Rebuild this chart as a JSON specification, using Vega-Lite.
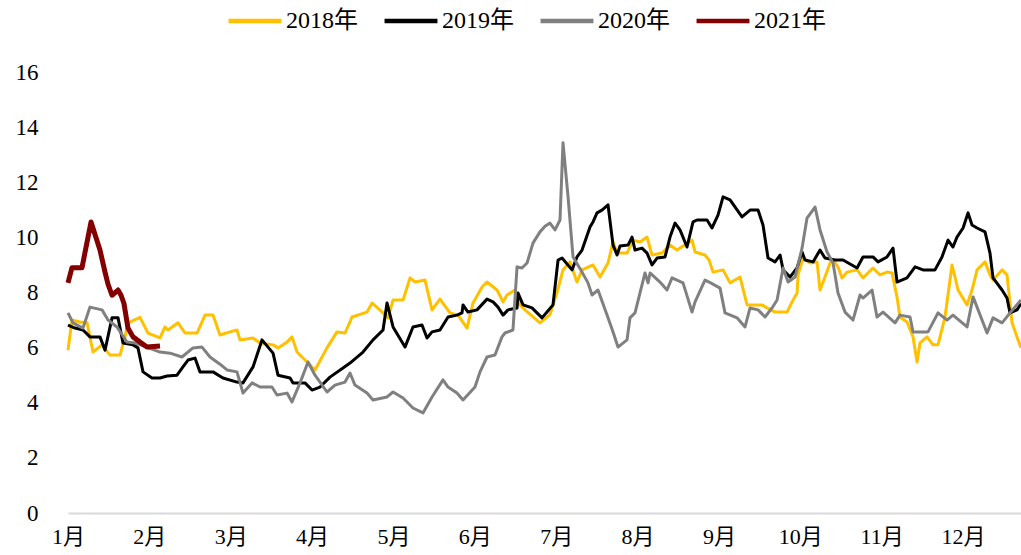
{
  "$schema": "https://vega.github.io/schema/vega-lite/v6.json",
  "width": 953,
  "height": 441,
  "autosize": {"type": "none"},
  "padding": {"left": 68, "top": 72, "right": 0, "bottom": 42},
  "background": "white",
  "config": {"view": {"stroke": null}, "font": "Liberation Serif"},
  "data": {"values": [
{"s":"2018年","m":0,"v":5.91},{"s":"2018年","m":0.049,"v":7.0},{"s":"2018年","m":0.147,"v":6.93},{"s":"2018年","m":0.234,"v":6.9},{"s":"2018年","m":0.307,"v":5.84},{"s":"2018年","m":0.418,"v":6.1},{"s":"2018年","m":0.516,"v":5.73},{"s":"2018年","m":0.639,"v":5.73},{"s":"2018年","m":0.701,"v":6.39},{"s":"2018年","m":0.737,"v":6.9},{"s":"2018年","m":0.885,"v":7.1},{"s":"2018年","m":0.983,"v":6.53},{"s":"2018年","m":1.131,"v":6.35},{"s":"2018年","m":1.192,"v":6.75},{"s":"2018年","m":1.229,"v":6.64},{"s":"2018年","m":1.352,"v":6.9},{"s":"2018年","m":1.438,"v":6.53},{"s":"2018年","m":1.586,"v":6.53},{"s":"2018年","m":1.684,"v":7.18},{"s":"2018年","m":1.782,"v":7.18},{"s":"2018年","m":1.868,"v":6.46},{"s":"2018年","m":1.991,"v":6.57},{"s":"2018年","m":2.077,"v":6.64},{"s":"2018年","m":2.114,"v":6.28},{"s":"2018年","m":2.274,"v":6.35},{"s":"2018年","m":2.36,"v":6.17},{"s":"2018年","m":2.52,"v":6.1},{"s":"2018年","m":2.581,"v":5.99},{"s":"2018年","m":2.692,"v":6.2},{"s":"2018年","m":2.753,"v":6.39},{"s":"2018年","m":2.815,"v":5.84},{"s":"2018年","m":2.938,"v":5.48},{"s":"2018年","m":3.036,"v":5.19},{"s":"2018年","m":3.183,"v":5.99},{"s":"2018年","m":3.306,"v":6.57},{"s":"2018年","m":3.405,"v":6.53},{"s":"2018年","m":3.491,"v":7.11},{"s":"2018年","m":3.675,"v":7.29},{"s":"2018年","m":3.737,"v":7.62},{"s":"2018年","m":3.872,"v":7.26},{"s":"2018年","m":3.933,"v":7.08},{"s":"2018年","m":3.995,"v":7.73},{"s":"2018年","m":4.118,"v":7.73},{"s":"2018年","m":4.204,"v":8.53},{"s":"2018年","m":4.265,"v":8.38},{"s":"2018年","m":4.388,"v":8.45},{"s":"2018年","m":4.474,"v":7.37},{"s":"2018年","m":4.572,"v":7.76},{"s":"2018年","m":4.695,"v":7.26},{"s":"2018年","m":4.794,"v":7.18},{"s":"2018年","m":4.904,"v":6.71},{"s":"2018年","m":4.978,"v":7.62},{"s":"2018年","m":5.089,"v":8.2},{"s":"2018年","m":5.15,"v":8.38},{"s":"2018年","m":5.273,"v":8.09},{"s":"2018年","m":5.347,"v":7.66},{"s":"2018年","m":5.396,"v":7.91},{"s":"2018年","m":5.494,"v":8.09},{"s":"2018年","m":5.556,"v":7.55},{"s":"2018年","m":5.617,"v":7.37},{"s":"2018年","m":5.801,"v":6.9},{"s":"2018年","m":5.924,"v":7.2},{"s":"2018年","m":6.01,"v":8.0},{"s":"2018年","m":6.084,"v":8.82},{"s":"2018年","m":6.17,"v":9.11},{"s":"2018年","m":6.256,"v":8.38},{"s":"2018年","m":6.318,"v":8.82},{"s":"2018年","m":6.453,"v":9.0},{"s":"2018年","m":6.539,"v":8.56},{"s":"2018年","m":6.637,"v":9.07},{"s":"2018年","m":6.699,"v":9.83},{"s":"2018年","m":6.748,"v":9.43},{"s":"2018年","m":6.871,"v":9.43},{"s":"2018年","m":6.944,"v":9.9},{"s":"2018年","m":7.03,"v":9.83},{"s":"2018年","m":7.117,"v":10.01},{"s":"2018年","m":7.178,"v":9.36},{"s":"2018年","m":7.301,"v":9.43},{"s":"2018年","m":7.399,"v":9.72},{"s":"2018年","m":7.485,"v":9.54},{"s":"2018年","m":7.67,"v":9.9},{"s":"2018年","m":7.707,"v":9.47},{"s":"2018年","m":7.829,"v":9.36},{"s":"2018年","m":7.879,"v":9.18},{"s":"2018年","m":7.928,"v":8.74},{"s":"2018年","m":8.051,"v":8.82},{"s":"2018年","m":8.137,"v":8.35},{"s":"2018年","m":8.26,"v":8.56},{"s":"2018年","m":8.346,"v":7.55},{"s":"2018年","m":8.53,"v":7.55},{"s":"2018年","m":8.592,"v":7.44},{"s":"2018年","m":8.69,"v":7.29},{"s":"2018年","m":8.838,"v":7.29},{"s":"2018年","m":8.899,"v":7.66},{"s":"2018年","m":8.961,"v":7.98},{"s":"2018年","m":8.973,"v":8.64},{"s":"2018年","m":9.034,"v":9.25},{"s":"2018年","m":9.12,"v":9.07},{"s":"2018年","m":9.206,"v":9.11},{"s":"2018年","m":9.243,"v":8.09},{"s":"2018年","m":9.304,"v":8.56},{"s":"2018年","m":9.366,"v":9.07},{"s":"2018年","m":9.403,"v":9.18},{"s":"2018年","m":9.464,"v":8.93},{"s":"2018年","m":9.513,"v":8.53},{"s":"2018年","m":9.575,"v":8.74},{"s":"2018年","m":9.698,"v":8.82},{"s":"2018年","m":9.771,"v":8.53},{"s":"2018年","m":9.894,"v":8.89},{"s":"2018年","m":9.98,"v":8.64},{"s":"2018年","m":10.066,"v":8.74},{"s":"2018年","m":10.128,"v":8.71},{"s":"2018年","m":10.189,"v":7.84},{"s":"2018年","m":10.226,"v":7.11},{"s":"2018年","m":10.312,"v":6.93},{"s":"2018年","m":10.386,"v":6.39},{"s":"2018年","m":10.435,"v":5.48},{"s":"2018年","m":10.472,"v":6.17},{"s":"2018年","m":10.558,"v":6.39},{"s":"2018年","m":10.632,"v":6.1},{"s":"2018年","m":10.693,"v":6.1},{"s":"2018年","m":10.779,"v":7.11},{"s":"2018年","m":10.865,"v":9.0},{"s":"2018年","m":10.902,"v":8.56},{"s":"2018年","m":10.939,"v":8.09},{"s":"2018年","m":11.05,"v":7.55},{"s":"2018年","m":11.111,"v":8.09},{"s":"2018年","m":11.173,"v":8.82},{"s":"2018年","m":11.271,"v":9.11},{"s":"2018年","m":11.332,"v":8.64},{"s":"2018年","m":11.369,"v":8.45},{"s":"2018年","m":11.48,"v":8.82},{"s":"2018年","m":11.541,"v":8.64},{"s":"2018年","m":11.603,"v":6.9},{"s":"2018年","m":11.677,"v":6.28},{"s":"2018年","m":11.713,"v":6.0},
{"s":"2019年","m":0,"v":6.82},{"s":"2019年","m":0.086,"v":6.71},{"s":"2019年","m":0.184,"v":6.64},{"s":"2019年","m":0.27,"v":6.39},{"s":"2019年","m":0.393,"v":6.39},{"s":"2019年","m":0.455,"v":5.91},{"s":"2019年","m":0.541,"v":7.08},{"s":"2019年","m":0.615,"v":7.08},{"s":"2019年","m":0.676,"v":6.17},{"s":"2019年","m":0.799,"v":6.1},{"s":"2019年","m":0.86,"v":5.99},{"s":"2019年","m":0.922,"v":5.12},{"s":"2019年","m":1.032,"v":4.9},{"s":"2019年","m":1.131,"v":4.9},{"s":"2019年","m":1.217,"v":4.97},{"s":"2019年","m":1.34,"v":5.0},{"s":"2019年","m":1.413,"v":5.3},{"s":"2019年","m":1.475,"v":5.55},{"s":"2019年","m":1.561,"v":5.62},{"s":"2019年","m":1.622,"v":5.12},{"s":"2019年","m":1.782,"v":5.12},{"s":"2019年","m":1.905,"v":4.9},{"s":"2019年","m":2.077,"v":4.75},{"s":"2019年","m":2.151,"v":4.72},{"s":"2019年","m":2.274,"v":5.3},{"s":"2019年","m":2.384,"v":6.28},{"s":"2019年","m":2.52,"v":5.8},{"s":"2019年","m":2.581,"v":5.0},{"s":"2019年","m":2.729,"v":4.9},{"s":"2019年","m":2.766,"v":4.72},{"s":"2019年","m":2.913,"v":4.72},{"s":"2019年","m":2.999,"v":4.46},{"s":"2019年","m":3.097,"v":4.57},{"s":"2019年","m":3.22,"v":4.93},{"s":"2019年","m":3.38,"v":5.26},{"s":"2019年","m":3.466,"v":5.44},{"s":"2019年","m":3.626,"v":5.84},{"s":"2019年","m":3.749,"v":6.28},{"s":"2019年","m":3.872,"v":6.64},{"s":"2019年","m":3.921,"v":7.62},{"s":"2019年","m":3.995,"v":6.75},{"s":"2019年","m":4.142,"v":6.02},{"s":"2019年","m":4.24,"v":6.75},{"s":"2019年","m":4.351,"v":6.82},{"s":"2019年","m":4.413,"v":6.35},{"s":"2019年","m":4.474,"v":6.57},{"s":"2019年","m":4.572,"v":6.64},{"s":"2019年","m":4.671,"v":7.11},{"s":"2019年","m":4.781,"v":7.18},{"s":"2019年","m":4.843,"v":7.26},{"s":"2019年","m":4.855,"v":7.55},{"s":"2019年","m":4.916,"v":7.29},{"s":"2019年","m":5.027,"v":7.37},{"s":"2019年","m":5.15,"v":7.76},{"s":"2019年","m":5.224,"v":7.66},{"s":"2019年","m":5.285,"v":7.47},{"s":"2019年","m":5.347,"v":7.18},{"s":"2019年","m":5.408,"v":7.37},{"s":"2019年","m":5.519,"v":7.44},{"s":"2019年","m":5.531,"v":7.98},{"s":"2019年","m":5.593,"v":7.55},{"s":"2019年","m":5.703,"v":7.44},{"s":"2019年","m":5.826,"v":7.08},{"s":"2019年","m":5.887,"v":7.29},{"s":"2019年","m":5.961,"v":7.55},{"s":"2019年","m":6.023,"v":9.18},{"s":"2019年","m":6.072,"v":9.25},{"s":"2019年","m":6.195,"v":8.82},{"s":"2019年","m":6.256,"v":9.29},{"s":"2019年","m":6.318,"v":9.54},{"s":"2019年","m":6.416,"v":10.38},{"s":"2019年","m":6.453,"v":10.56},{"s":"2019年","m":6.502,"v":10.89},{"s":"2019年","m":6.563,"v":10.99},{"s":"2019年","m":6.637,"v":11.18},{"s":"2019年","m":6.699,"v":9.72},{"s":"2019年","m":6.748,"v":9.36},{"s":"2019年","m":6.785,"v":9.69},{"s":"2019年","m":6.883,"v":9.72},{"s":"2019年","m":6.932,"v":10.01},{"s":"2019年","m":6.969,"v":9.54},{"s":"2019年","m":7.055,"v":9.61},{"s":"2019年","m":7.117,"v":9.43},{"s":"2019年","m":7.178,"v":9.0},{"s":"2019年","m":7.24,"v":9.25},{"s":"2019年","m":7.338,"v":9.29},{"s":"2019年","m":7.399,"v":10.01},{"s":"2019年","m":7.461,"v":10.52},{"s":"2019年","m":7.522,"v":10.27},{"s":"2019年","m":7.608,"v":9.65},{"s":"2019年","m":7.682,"v":10.56},{"s":"2019年","m":7.731,"v":10.63},{"s":"2019年","m":7.854,"v":10.63},{"s":"2019年","m":7.915,"v":10.34},{"s":"2019年","m":7.989,"v":10.81},{"s":"2019年","m":8.051,"v":11.47},{"s":"2019年","m":8.137,"v":11.36},{"s":"2019年","m":8.284,"v":10.74},{"s":"2019年","m":8.383,"v":10.99},{"s":"2019年","m":8.481,"v":10.99},{"s":"2019年","m":8.542,"v":10.45},{"s":"2019年","m":8.604,"v":9.25},{"s":"2019年","m":8.69,"v":9.11},{"s":"2019年","m":8.752,"v":9.36},{"s":"2019年","m":8.789,"v":8.82},{"s":"2019年","m":8.874,"v":8.56},{"s":"2019年","m":8.96,"v":8.89},{"s":"2019年","m":9.022,"v":9.47},{"s":"2019年","m":9.058,"v":9.18},{"s":"2019年","m":9.157,"v":9.11},{"s":"2019年","m":9.243,"v":9.54},{"s":"2019年","m":9.304,"v":9.25},{"s":"2019年","m":9.427,"v":9.18},{"s":"2019年","m":9.526,"v":9.18},{"s":"2019年","m":9.698,"v":8.89},{"s":"2019年","m":9.771,"v":9.29},{"s":"2019年","m":9.894,"v":9.29},{"s":"2019年","m":9.956,"v":9.11},{"s":"2019年","m":10.066,"v":9.29},{"s":"2019年","m":10.14,"v":9.61},{"s":"2019年","m":10.189,"v":8.38},{"s":"2019年","m":10.312,"v":8.53},{"s":"2019年","m":10.411,"v":8.93},{"s":"2019年","m":10.509,"v":8.82},{"s":"2019年","m":10.656,"v":8.82},{"s":"2019年","m":10.742,"v":9.29},{"s":"2019年","m":10.816,"v":9.9},{"s":"2019年","m":10.877,"v":9.65},{"s":"2019年","m":10.926,"v":10.01},{"s":"2019年","m":11.001,"v":10.34},{"s":"2019年","m":11.062,"v":10.89},{"s":"2019年","m":11.111,"v":10.45},{"s":"2019年","m":11.173,"v":10.34},{"s":"2019年","m":11.271,"v":10.2},{"s":"2019年","m":11.332,"v":9.43},{"s":"2019年","m":11.369,"v":8.53},{"s":"2019年","m":11.48,"v":8.09},{"s":"2019年","m":11.541,"v":7.8},{"s":"2019年","m":11.578,"v":7.26},{"s":"2019年","m":11.664,"v":7.37},{"s":"2019年","m":11.713,"v":7.6},
{"s":"2020年","m":0,"v":7.26},{"s":"2020年","m":0.061,"v":6.9},{"s":"2020年","m":0.184,"v":6.71},{"s":"2020年","m":0.27,"v":7.47},{"s":"2020年","m":0.418,"v":7.37},{"s":"2020年","m":0.492,"v":7.0},{"s":"2020年","m":0.602,"v":6.75},{"s":"2020年","m":0.725,"v":6.2},{"s":"2020年","m":0.824,"v":6.17},{"s":"2020年","m":1.131,"v":5.84},{"s":"2020年","m":1.254,"v":5.8},{"s":"2020年","m":1.401,"v":5.66},{"s":"2020年","m":1.536,"v":5.99},{"s":"2020年","m":1.647,"v":6.02},{"s":"2020年","m":1.745,"v":5.66},{"s":"2020年","m":1.868,"v":5.4},{"s":"2020年","m":1.954,"v":5.19},{"s":"2020年","m":2.077,"v":5.12},{"s":"2020年","m":2.151,"v":4.35},{"s":"2020年","m":2.262,"v":4.72},{"s":"2020年","m":2.36,"v":4.57},{"s":"2020年","m":2.507,"v":4.57},{"s":"2020年","m":2.569,"v":4.28},{"s":"2020年","m":2.692,"v":4.35},{"s":"2020年","m":2.753,"v":4.03},{"s":"2020年","m":2.852,"v":4.72},{"s":"2020年","m":2.95,"v":5.48},{"s":"2020年","m":3.036,"v":5.0},{"s":"2020年","m":3.183,"v":4.39},{"s":"2020年","m":3.282,"v":4.64},{"s":"2020年","m":3.405,"v":4.75},{"s":"2020年","m":3.466,"v":5.08},{"s":"2020年","m":3.527,"v":4.64},{"s":"2020年","m":3.675,"v":4.35},{"s":"2020年","m":3.749,"v":4.1},{"s":"2020年","m":3.921,"v":4.21},{"s":"2020年","m":3.995,"v":4.39},{"s":"2020年","m":4.118,"v":4.17},{"s":"2020年","m":4.24,"v":3.81},{"s":"2020年","m":4.363,"v":3.63},{"s":"2020年","m":4.474,"v":4.21},{"s":"2020年","m":4.609,"v":4.83},{"s":"2020年","m":4.671,"v":4.57},{"s":"2020年","m":4.781,"v":4.35},{"s":"2020年","m":4.855,"v":4.1},{"s":"2020年","m":5.002,"v":4.57},{"s":"2020年","m":5.064,"v":5.12},{"s":"2020年","m":5.15,"v":5.66},{"s":"2020年","m":5.248,"v":5.73},{"s":"2020年","m":5.334,"v":6.39},{"s":"2020年","m":5.371,"v":6.53},{"s":"2020年","m":5.469,"v":6.64},{"s":"2020年","m":5.519,"v":8.93},{"s":"2020年","m":5.58,"v":8.89},{"s":"2020年","m":5.642,"v":9.07},{"s":"2020年","m":5.716,"v":9.8},{"s":"2020年","m":5.801,"v":10.2},{"s":"2020年","m":5.863,"v":10.4},{"s":"2020年","m":5.924,"v":10.52},{"s":"2020年","m":5.986,"v":10.27},{"s":"2020年","m":6.047,"v":10.63},{"s":"2020年","m":6.084,"v":13.43},{"s":"2020年","m":6.146,"v":11.47},{"s":"2020年","m":6.207,"v":9.29},{"s":"2020年","m":6.318,"v":8.74},{"s":"2020年","m":6.391,"v":8.35},{"s":"2020年","m":6.441,"v":7.91},{"s":"2020年","m":6.514,"v":8.09},{"s":"2020年","m":6.625,"v":7.18},{"s":"2020年","m":6.699,"v":6.57},{"s":"2020年","m":6.76,"v":6.02},{"s":"2020年","m":6.871,"v":6.28},{"s":"2020年","m":6.907,"v":7.08},{"s":"2020年","m":6.969,"v":7.26},{"s":"2020年","m":7.092,"v":8.71},{"s":"2020年","m":7.129,"v":8.35},{"s":"2020年","m":7.154,"v":8.71},{"s":"2020年","m":7.276,"v":8.38},{"s":"2020年","m":7.362,"v":8.09},{"s":"2020年","m":7.424,"v":8.53},{"s":"2020年","m":7.559,"v":8.35},{"s":"2020年","m":7.67,"v":7.29},{"s":"2020年","m":7.707,"v":7.66},{"s":"2020年","m":7.829,"v":8.45},{"s":"2020年","m":7.879,"v":8.38},{"s":"2020年","m":8.014,"v":8.16},{"s":"2020年","m":8.075,"v":7.26},{"s":"2020年","m":8.223,"v":7.08},{"s":"2020年","m":8.321,"v":6.75},{"s":"2020年","m":8.383,"v":7.44},{"s":"2020年","m":8.481,"v":7.37},{"s":"2020年","m":8.567,"v":7.11},{"s":"2020年","m":8.653,"v":7.44},{"s":"2020年","m":8.715,"v":7.73},{"s":"2020年","m":8.789,"v":8.89},{"s":"2020年","m":8.85,"v":8.38},{"s":"2020年","m":8.936,"v":8.56},{"s":"2020年","m":9.022,"v":9.61},{"s":"2020年","m":9.083,"v":10.7},{"s":"2020年","m":9.182,"v":11.1},{"s":"2020年","m":9.243,"v":10.27},{"s":"2020年","m":9.329,"v":9.47},{"s":"2020年","m":9.403,"v":9.07},{"s":"2020年","m":9.464,"v":7.98},{"s":"2020年","m":9.55,"v":7.29},{"s":"2020年","m":9.648,"v":7.0},{"s":"2020年","m":9.735,"v":7.91},{"s":"2020年","m":9.771,"v":7.8},{"s":"2020年","m":9.882,"v":8.09},{"s":"2020年","m":9.943,"v":7.11},{"s":"2020年","m":10.017,"v":7.29},{"s":"2020年","m":10.165,"v":6.9},{"s":"2020年","m":10.226,"v":7.18},{"s":"2020年","m":10.349,"v":7.11},{"s":"2020年","m":10.386,"v":6.57},{"s":"2020年","m":10.57,"v":6.57},{"s":"2020年","m":10.693,"v":7.26},{"s":"2020年","m":10.804,"v":7.0},{"s":"2020年","m":10.877,"v":7.18},{"s":"2020年","m":11.05,"v":6.75},{"s":"2020年","m":11.124,"v":7.84},{"s":"2020年","m":11.296,"v":6.53},{"s":"2020年","m":11.369,"v":7.08},{"s":"2020年","m":11.48,"v":6.9},{"s":"2020年","m":11.578,"v":7.26},{"s":"2020年","m":11.713,"v":7.73},
{"s":"2021年","m":0,"v":8.35},{"s":"2021年","m":0.049,"v":8.9},{"s":"2021年","m":0.172,"v":8.9},{"s":"2021年","m":0.283,"v":10.56},{"s":"2021年","m":0.393,"v":9.54},{"s":"2021年","m":0.455,"v":8.74},{"s":"2021年","m":0.492,"v":8.3},{"s":"2021年","m":0.541,"v":7.9},{"s":"2021年","m":0.615,"v":8.09},{"s":"2021年","m":0.652,"v":7.9},{"s":"2021年","m":0.688,"v":7.6},{"s":"2021年","m":0.737,"v":6.71},{"s":"2021年","m":0.799,"v":6.39},{"s":"2021年","m":0.885,"v":6.2},{"s":"2021年","m":0.971,"v":6.02},{"s":"2021年","m":1.131,"v":6.06}
  ]},
  "encoding": {
    "x": {"field": "m", "type": "quantitative",
      "scale": {"domain": [0, 11.713], "nice": false, "zero": false},
      "axis": {"title": null, "values": [0,1,2,3,4,5,6,7,8,9,10,11], "labelExpr": "(datum.value + 1) + '月'", "grid": false, "ticks": false, "domainColor": "#d9d9d9", "domainWidth": 2, "labelFont": "Liberation Serif, Noto Sans CJK SC", "labelFontSize": 22, "labelColor": "#000000", "labelPadding": 13, "labelFlush": false}},
    "y": {"field": "v", "type": "quantitative",
      "scale": {"domain": [0, 16], "nice": false},
      "axis": {"title": null, "values": [0,2,4,6,8,10,12,14,16], "grid": false, "ticks": false, "domain": false, "labelFont": "Liberation Serif", "labelFontSize": 23, "labelColor": "#000000", "labelPadding": 30}},
    "color": {"field": "s", "type": "nominal",
      "scale": {"domain": ["2018年","2019年","2020年","2021年"], "range": ["#FFC000","#000000","#808080","#840000"]},
      "legend": {"title": null, "orient": "none", "direction": "horizontal", "legendX": 158, "legendY": -80, "symbolType": "stroke", "symbolSize": 2800, "symbolStrokeWidth": 4.5, "labelFont": "Liberation Serif, Noto Sans CJK SC", "labelFontSize": 24, "labelColor": "#000000", "labelOffset": 2, "columnPadding": 17}}
  },
  "layer": [
    {"transform": [{"filter": "datum.s !== '2021年'"}], "mark": {"type": "line", "strokeWidth": 3, "strokeJoin": "round"}},
    {"transform": [{"filter": "datum.s === '2021年'"}], "mark": {"type": "line", "strokeWidth": 5, "strokeJoin": "round"}}
  ]
}
